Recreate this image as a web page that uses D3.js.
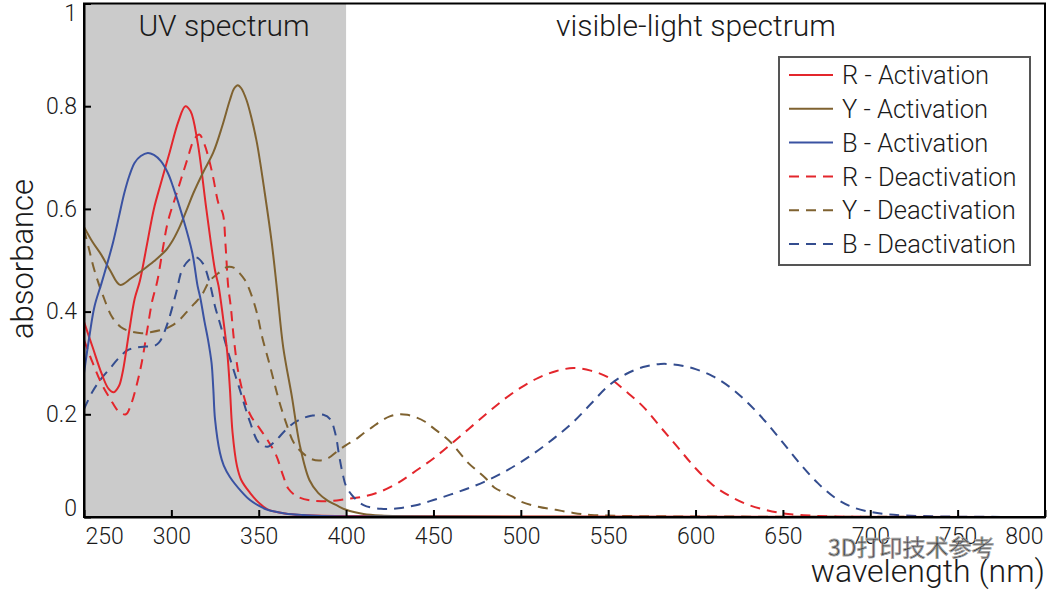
<!DOCTYPE html>
<html>
<head>
<meta charset="utf-8">
<script src="https://cdn.jsdelivr.net/npm/d3@7"></script>
<style>
  body { margin: 0; background: #fff; }
  text { font-family: Roboto, "Open Sans", sans-serif; font-weight: 300; fill: #1a1a1a; }
</style>
</head>
<body>
<svg id="chart" width="1048" height="592"></svg>
<script>
// absorbance values, [wavelength nm, absorbance]
var rActivation = [[250,0.38],[255,0.33],[260,0.28],[264,0.25],[267,0.243],[270,0.255],[272,0.28],[274,0.32],[276,0.365],[279,0.425],[282,0.46],[286,0.53],[290,0.6],[294,0.65],[299,0.71],[304,0.77],[308,0.80],[311,0.79],[315,0.73],[320,0.60],[325,0.48],[327,0.45],[329.5,0.39],[332,0.32],[333.5,0.25],[335,0.165],[337.5,0.10],[340,0.072],[345,0.047],[350,0.028],[355,0.015],[365,0.007],[375,0.004],[400,0.002],[500,0.001],[800,0]];

var yActivation = [[250,0.565],[255,0.535],[260,0.51],[265,0.48],[270.6,0.452],[277,0.465],[284,0.482],[290,0.498],[297,0.52],[301,0.54],[305,0.567],[309,0.60],[312.5,0.63],[318,0.67],[324,0.71],[329,0.76],[333.5,0.812],[336,0.835],[338,0.841],[340,0.835],[343,0.812],[346,0.775],[349,0.728],[353.5,0.63],[357.5,0.533],[360.5,0.442],[364,0.331],[369,0.234],[373.5,0.14],[379,0.072],[384,0.047],[389,0.033],[395,0.022],[400,0.014],[410,0.006],[420,0.003],[450,0.001],[800,0]];

var bActivation = [[250,0.28],[253,0.35],[256,0.41],[260,0.455],[263,0.49],[266.5,0.533],[270,0.585],[273,0.63],[276,0.665],[279,0.69],[282.5,0.703],[286.5,0.709],[290,0.705],[294,0.693],[298,0.67],[301,0.643],[306.5,0.584],[312,0.514],[315,0.45],[316.5,0.428],[319,0.38],[321,0.345],[323,0.30],[324,0.25],[325,0.19],[327.8,0.125],[330,0.10],[333.5,0.078],[340,0.05],[345,0.033],[350,0.022],[355,0.014],[365,0.007],[375,0.004],[400,0.001],[800,0]];

var rDeactivation = [[250,0.345],[255,0.30],[260,0.26],[265,0.23],[270,0.205],[274,0.20],[277,0.22],[280,0.255],[283,0.30],[286,0.36],[289,0.42],[292,0.46],[295,0.52],[298,0.575],[303,0.63],[309,0.695],[313,0.735],[316,0.745],[319,0.725],[322,0.69],[324,0.66],[327,0.61],[329.5,0.59],[331,0.53],[332.5,0.45],[334,0.41],[336,0.34],[339,0.27],[345,0.20],[350,0.175],[355,0.15],[360,0.12],[364,0.08],[367,0.055],[372,0.04],[380,0.032],[390,0.031],[400,0.035],[410,0.04],[420,0.05],[430,0.067],[440,0.09],[450,0.114],[460,0.142],[470,0.171],[480,0.2],[490,0.228],[500,0.252],[510,0.271],[520,0.284],[530,0.29],[540,0.285],[550,0.272],[560,0.245],[570,0.215],[580,0.175],[590,0.135],[600,0.095],[610,0.062],[620,0.04],[630,0.024],[640,0.014],[650,0.007],[660,0.004],[680,0.001],[800,0]];

var yDeactivation = [[250,0.56],[253,0.52],[256,0.48],[261,0.43],[266,0.39],[271,0.37],[276,0.362],[283,0.358],[288,0.36],[295,0.365],[300,0.372],[305,0.385],[309,0.40],[313,0.415],[317,0.43],[322,0.46],[327,0.475],[332,0.487],[336,0.485],[339,0.475],[342,0.462],[345,0.44],[349,0.397],[352,0.35],[356,0.30],[359,0.26],[362,0.222],[366,0.18],[370,0.145],[375,0.125],[380,0.113],[385,0.11],[390,0.115],[395,0.128],[400,0.14],[405,0.15],[410,0.163],[415,0.175],[420,0.187],[425,0.196],[430,0.2],[435,0.199],[440,0.194],[445,0.186],[450,0.173],[455,0.16],[460,0.145],[465,0.125],[470,0.105],[475,0.09],[480,0.075],[485,0.057],[490,0.048],[495,0.04],[500,0.03],[510,0.02],[520,0.014],[530,0.008],[540,0.004],[560,0.002],[600,0.001],[800,0]];

var bDeactivation = [[250,0.21],[255,0.245],[260,0.27],[265,0.29],[270,0.31],[275,0.325],[280,0.33],[285,0.332],[290,0.333],[293,0.34],[296,0.36],[299,0.39],[303,0.44],[306,0.48],[310,0.50],[314,0.506],[318,0.494],[322,0.455],[325,0.41],[328,0.375],[333,0.315],[339,0.25],[345,0.185],[350,0.145],[355,0.137],[360,0.15],[365,0.168],[370,0.183],[375,0.192],[380,0.197],[387,0.199],[391,0.19],[394,0.16],[396,0.12],[398,0.085],[400,0.06],[404,0.04],[410,0.023],[420,0.016],[430,0.017],[440,0.023],[450,0.033],[460,0.044],[470,0.056],[480,0.07],[490,0.087],[500,0.107],[510,0.13],[520,0.156],[530,0.185],[540,0.22],[550,0.255],[560,0.278],[570,0.292],[580,0.298],[590,0.296],[600,0.288],[610,0.274],[620,0.252],[630,0.222],[640,0.186],[650,0.145],[660,0.103],[670,0.066],[680,0.037],[690,0.019],[700,0.01],[710,0.005],[720,0.003],[740,0.001],[800,0]];

var seriesNames = ["R - Activation", "Y - Activation", "B - Activation",
                   "R - Deactivation", "Y - Deactivation", "B - Deactivation"];
var xTicks = [250, 300, 350, 400, 450, 500, 550, 600, 650, 700, 750, 800];
var yTicks = [0, 0.2, 0.4, 0.6, 0.8, 1];
var uvRange = [250, 400];

(function () {
  var red = "#e3262c", brown = "#7f6230", blue = "#3a52a2", blueDark = "#344d8f";
  var series = [
    {name: seriesNames[0], data: rActivation, color: red, dash: null},
    {name: seriesNames[1], data: yActivation, color: brown, dash: null},
    {name: seriesNames[2], data: bActivation, color: blue, dash: null},
    {name: seriesNames[3], data: rDeactivation, color: red, dash: "10,7"},
    {name: seriesNames[4], data: yDeactivation, color: brown, dash: "10,7"},
    {name: seriesNames[5], data: bDeactivation, color: blueDark, dash: "10,7"}
  ];

  var plot_left = 84, plot_right = 1045, plot_top = 3.5, plot_bottom = 517;

  var svg = d3.select("#chart");
  var x = d3.scaleLinear().domain([250, 800]).range([plot_left, plot_right]);
  var y = d3.scaleLinear().domain([0, 1]).range([plot_bottom, plot_top]);

  svg.append("defs").append("clipPath").attr("id", "plot-clip")
      .append("rect")
      .attr("x", plot_left).attr("y", plot_top)
      .attr("width", plot_right - plot_left).attr("height", plot_bottom - plot_top);

  // UV band
  svg.append("rect")
      .attr("x", x(uvRange[0])).attr("y", plot_top)
      .attr("width", x(uvRange[1]) - x(uvRange[0]))
      .attr("height", plot_bottom - plot_top)
      .attr("fill", "#cbcbcb");

  svg.append("text")
      .attr("x", 224).attr("y", 36)
      .attr("text-anchor", "middle")
      .style("font-size", "30px")
      .text("UV spectrum");
  svg.append("text")
      .attr("x", 696).attr("y", 36)
      .attr("text-anchor", "middle")
      .style("font-size", "30px")
      .text("visible-light spectrum");

  var line = d3.line()
      .x(function (d) { return x(d[0]); })
      .y(function (d) { return y(d[1]); })
      .curve(d3.curveCatmullRom.alpha(0.5));

  var lines = svg.append("g").attr("clip-path", "url(#plot-clip)");
  // dashed first, solid on top
  series.slice(3).concat(series.slice(0, 3)).forEach(function (s) {
    lines.append("path")
        .attr("d", line(s.data))
        .attr("fill", "none")
        .attr("stroke", s.color)
        .attr("stroke-width", 2)
        .attr("stroke-dasharray", s.dash);
  });

  // frame
  svg.append("rect")
      .attr("x", plot_left).attr("y", plot_top)
      .attr("width", plot_right - plot_left).attr("height", plot_bottom - plot_top)
      .attr("fill", "none")
      .attr("stroke", "#000")
      .attr("stroke-width", 2);

  var xAxis = svg.append("g")
      .attr("transform", "translate(0," + plot_bottom + ")")
      .call(d3.axisBottom(x).tickValues(xTicks).tickSizeInner(-7).tickSizeOuter(0).tickPadding(11));
  var yAxis = svg.append("g")
      .attr("transform", "translate(" + plot_left + ",0)")
      .call(d3.axisLeft(y).tickValues(yTicks).tickSizeInner(-7).tickSizeOuter(0).tickPadding(7)
          .tickFormat(function (d) { return String(d); }));

  [xAxis, yAxis].forEach(function (ax) {
    ax.select(".domain").attr("stroke", "#000").attr("stroke-width", 2);
    ax.selectAll(".tick line").attr("stroke", "#000").attr("stroke-width", 2);
    ax.selectAll("text")
        .style("font-family", "Roboto, sans-serif")
        .style("font-weight", 300)
        .style("font-size", "23px")
        .attr("fill", "#1a1a1a");
  });

  // keep end labels inside the frame
  xAxis.selectAll(".tick text").filter(function (d) { return d === xTicks[0]; })
      .attr("text-anchor", "start").attr("x", 1);
  xAxis.selectAll(".tick text").filter(function (d) { return d === xTicks[xTicks.length - 1]; })
      .attr("text-anchor", "end").attr("x", -2);
  yAxis.selectAll(".tick text").filter(function (d) { return d === 0; }).attr("dy", "-0.05em");
  yAxis.selectAll(".tick text").filter(function (d) { return d === 1; }).attr("dy", "0.75em");

  svg.append("text")
      .attr("transform", "translate(33,259) rotate(-90)")
      .attr("text-anchor", "middle")
      .style("font-size", "31px")
      .text("absorbance");

  svg.append("text")
      .attr("x", 1045).attr("y", 582)
      .attr("text-anchor", "end")
      .style("font-size", "32px")
      .text("wavelength (nm)");

  // watermark
  svg.append("text")
      .attr("x", 828).attr("y", 556)
      .style("font-family", "'Noto Sans CJK SC', sans-serif")
      .style("font-weight", 400)
      .style("font-size", "23px")
      .attr("fill", "#ffffff")
      .attr("fill-opacity", 0.85)
      .attr("stroke", "#a0a0a0")
      .attr("stroke-width", 0.9)
      .text("3D打印技术参考");

  // legend
  var legend = svg.append("g").attr("transform", "translate(779,57)");
  legend.append("rect")
      .attr("width", 251).attr("height", 208)
      .attr("fill", "#fff")
      .attr("stroke", "#555")
      .attr("stroke-width", 2);
  series.forEach(function (s, i) {
    var row = legend.append("g").attr("transform", "translate(0," + (18 + i * 33.8) + ")");
    row.append("line")
        .attr("x1", 10).attr("x2", 54)
        .attr("stroke", s.color)
        .attr("stroke-width", 2)
        .attr("stroke-dasharray", s.dash ? "10,7" : null);
    row.append("text")
        .attr("x", 63).attr("dy", "0.36em")
        .style("font-size", "25.5px")
        .text(s.name);
  });
})();
</script>
</body>
</html>
